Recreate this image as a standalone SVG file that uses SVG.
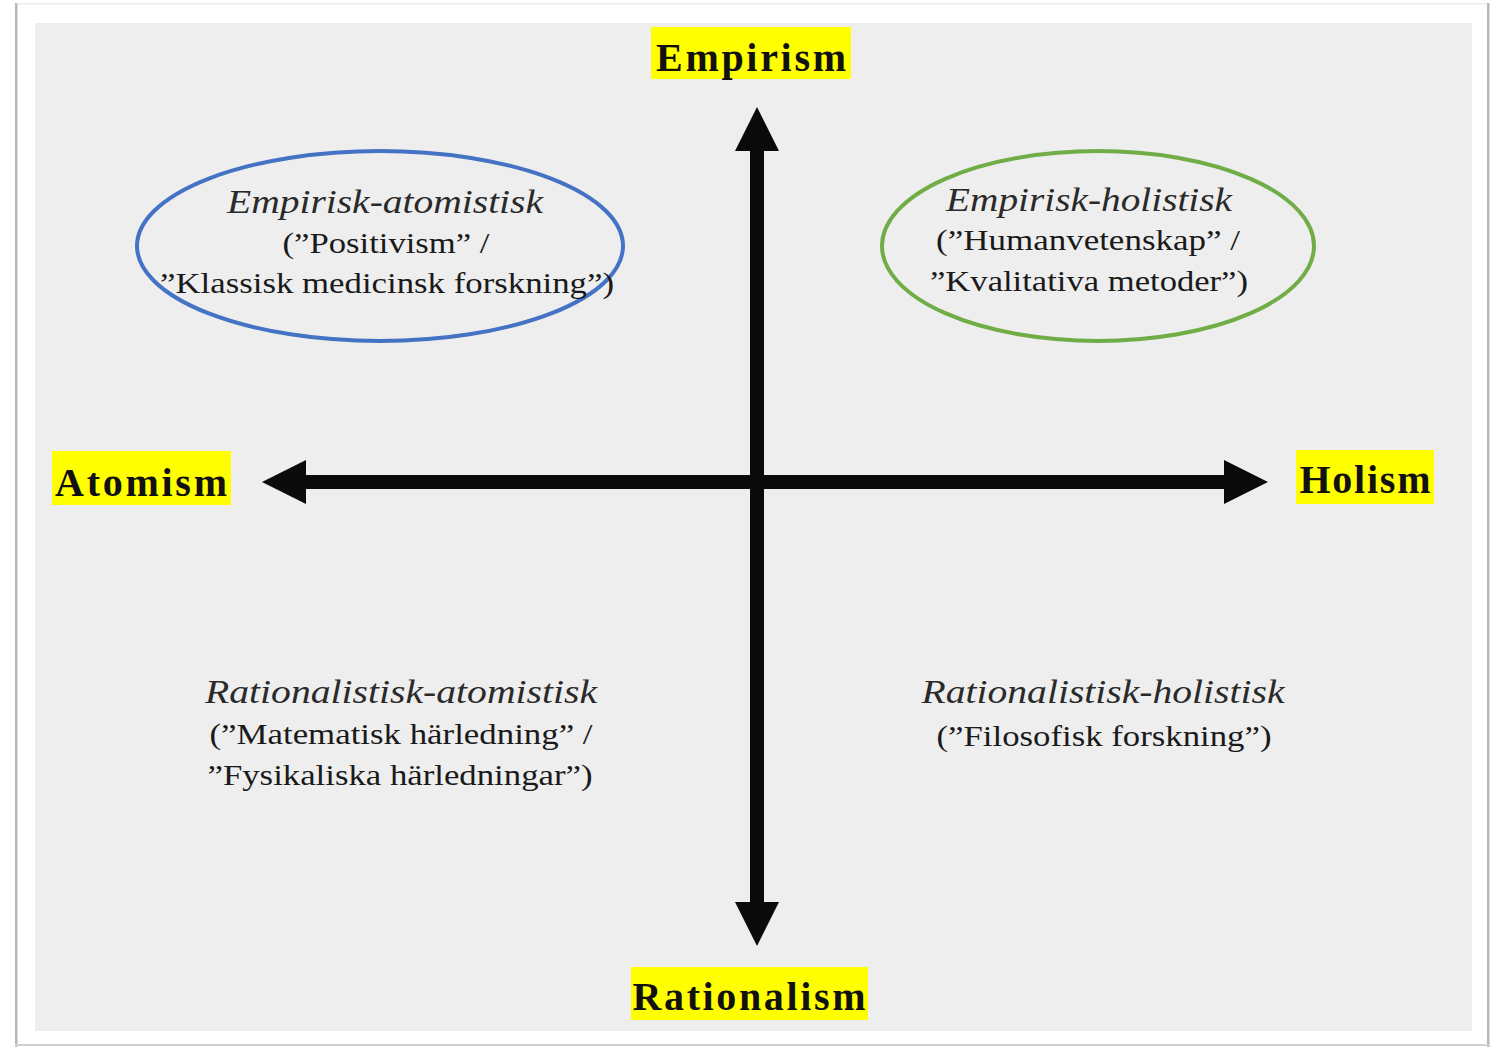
<svg xmlns="http://www.w3.org/2000/svg" width="1491" height="1047" viewBox="0 0 1491 1047">
  <defs>
    <style>
      .lbl { font-family: "Liberation Serif", "Times New Roman", serif; font-weight: bold; font-size: 40px; fill: #111; }
      .hl { fill: #ffff00; }
      .it { font-family: "Liberation Serif", "Times New Roman", serif; font-style: italic; font-size: 33px; fill: #2a2a2a; }
      .rg { font-family: "Liberation Serif", "Times New Roman", serif; font-size: 29px; fill: #1a1a1a; }
      .arrow { fill: #0a0a0a; }
    </style>
  </defs>
  <!-- frame -->
  <rect x="0" y="0" width="1491" height="1047" fill="#ffffff"/>
  <rect x="15" y="3" width="2.5" height="1044" fill="#b8b8b8"/>
  <rect x="1487" y="3" width="2.5" height="1044" fill="#b8b8b8"/>
  <rect x="15" y="1044" width="1475" height="2" fill="#d0d0d0"/>
  <rect x="17" y="3" width="1470" height="1.5" fill="#ececec"/>
  <rect x="35" y="23" width="1437" height="1008" fill="#eeeeee"/>

  <!-- connectors -->
  <g id="connectors">
    <rect class="arrow" x="750" y="148" width="14" height="756"/>
    <polygon class="arrow" points="757,107 779,151 735,151"/>
    <polygon class="arrow" points="757,946 779,902 735,902"/>
    <rect class="arrow" x="303" y="475" width="924" height="14"/>
    <polygon class="arrow" points="262,482 306,460 306,504"/>
    <polygon class="arrow" points="1268,482 1224,460 1224,504"/>
  </g>

  <g id="empirism">
    <rect class="hl" x="651" y="27" width="200" height="52"/>
    <text class="lbl" x="751" y="71" text-anchor="middle" textLength="190" lengthAdjust="spacing">Empirism</text>
  </g>
  <g id="atomism">
    <rect class="hl" x="52" y="451" width="179" height="54"/>
    <text class="lbl" x="141" y="496" text-anchor="middle" textLength="172" lengthAdjust="spacing">Atomism</text>
  </g>
  <g id="holism">
    <rect class="hl" x="1296" y="450" width="138" height="54"/>
    <text class="lbl" x="1365" y="493" text-anchor="middle" textLength="131" lengthAdjust="spacing">Holism</text>
  </g>
  <g id="rationalism">
    <rect class="hl" x="631" y="967" width="237" height="53"/>
    <text class="lbl" x="749" y="1010" text-anchor="middle" textLength="233" lengthAdjust="spacing">Rationalism</text>
  </g>

  <g id="empirisk-atomistisk">
    <ellipse cx="380" cy="246" rx="243" ry="95" fill="none" stroke="#4472c4" stroke-width="4"/>
    <text class="it" x="385" y="213" text-anchor="middle" textLength="316" lengthAdjust="spacingAndGlyphs">Empirisk-atomistisk</text>
    <text class="rg" x="386" y="253" text-anchor="middle" textLength="207" lengthAdjust="spacingAndGlyphs">(”Positivism” /</text>
    <text class="rg" x="387" y="293" text-anchor="middle" textLength="454" lengthAdjust="spacingAndGlyphs">”Klassisk medicinsk forskning”)</text>
  </g>

  <g id="empirisk-holistisk">
    <ellipse cx="1098" cy="246" rx="216" ry="95" fill="none" stroke="#70ad47" stroke-width="4"/>
    <text class="it" x="1089" y="211" text-anchor="middle" textLength="286" lengthAdjust="spacingAndGlyphs">Empirisk-holistisk</text>
    <text class="rg" x="1088" y="250" text-anchor="middle" textLength="304" lengthAdjust="spacingAndGlyphs">(”Humanvetenskap” /</text>
    <text class="rg" x="1089" y="291" text-anchor="middle" textLength="318" lengthAdjust="spacingAndGlyphs">”Kvalitativa metoder”)</text>
  </g>

  <g id="rationalistisk-atomistisk">
    <text class="it" x="401" y="703" text-anchor="middle" textLength="392" lengthAdjust="spacingAndGlyphs">Rationalistisk-atomistisk</text>
    <text class="rg" x="401" y="744" text-anchor="middle" textLength="383" lengthAdjust="spacingAndGlyphs">(”Matematisk härledning” /</text>
    <text class="rg" x="400" y="785" text-anchor="middle" textLength="385" lengthAdjust="spacingAndGlyphs">”Fysikaliska härledningar”)</text>
  </g>

  <g id="rationalistisk-holistisk">
    <text class="it" x="1103" y="703" text-anchor="middle" textLength="363" lengthAdjust="spacingAndGlyphs">Rationalistisk-holistisk</text>
    <text class="rg" x="1104" y="746" text-anchor="middle" textLength="335" lengthAdjust="spacingAndGlyphs">(”Filosofisk forskning”)</text>
  </g>
</svg>
